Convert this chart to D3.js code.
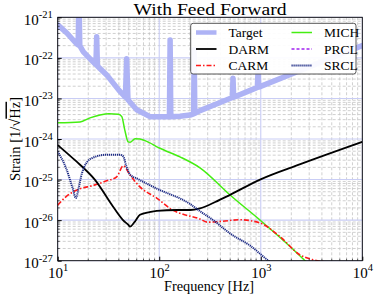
<!DOCTYPE html>
<html><head><meta charset="utf-8">
<script src="https://cdn.jsdelivr.net/npm/d3@7"></script>
<style>
html,body{margin:0;padding:0;background:#fff;}
svg{display:block;font-family:"Liberation Serif","DejaVu Serif",serif;}
</style></head>
<body>
<svg id="chart" width="382" height="297"></svg>
<script>
// ---------- data ----------
const xTickValues = [10, 100, 1000, 10000];
const xTickExps = ["1", "2", "3", "4"];
const yTickValues = [1e-27, 1e-26, 1e-25, 1e-24, 1e-23, 1e-22, 1e-21];
const yTickExps = ["-27", "-26", "-25", "-24", "-23", "-22", "-21"];

const targetFreq = [10, 12.3, 15.4, 15.9, 16.2, 16.5, 17.9, 23.3, 23.8, 24.2, 24.6, 30.4, 40, 46.4, 47.8, 49.2, 60, 81, 126, 128, 130, 160, 201, 218, 221, 224, 252, 398, 525, 533, 541, 787, 925, 940, 955, 2450, 10000];
const targetVal = [6.5e-22, 4.1e-22, 2.2e-22, 2.1e-22, 3.2e-21, 2.0e-22, 1.4e-22, 7.1e-23, 6.8e-23, 3.3e-22, 6.3e-23, 3.8e-23, 1.6e-23, 1.07e-23, 9.5e-23, 9.3e-24, 5.25e-24, 3.55e-24, 3.55e-24, 2.75e-22, 3.55e-24, 3.63e-24, 3.89e-24, 4.17e-24, 1.58e-22, 4.27e-24, 5.0e-24, 7.94e-24, 1.05e-23, 3.16e-23, 1.07e-23, 1.58e-23, 1.86e-23, 4.47e-23, 1.9e-23, 4.9e-23, 2.0e-22];

const darmFreq = [10, 14.8, 23.3, 35.3, 44, 49.7, 51.5, 57, 64.6, 80, 94.4, 150, 201, 252, 356, 498, 984, 2455, 10000];
const darmVal = [7.1e-25, 3.0e-25, 9.8e-26, 2.1e-26, 1.0e-26, 7.6e-27, 6.9e-27, 8.9e-27, 1.35e-26, 1.58e-26, 1.7e-26, 1.78e-26, 1.78e-26, 1.95e-26, 2.8e-26, 4.2e-26, 1.0e-25, 2.4e-25, 8.5e-25];

const carmFreq = [10, 12.1, 14.2, 23.3, 30.4, 38.1, 44.3, 51.6, 64.6, 94.4, 135, 160, 252, 300, 400, 630, 984, 1550, 2450, 3300, 4800, 8000];
const carmVal = [2.34e-26, 3.8e-26, 5.0e-26, 7.4e-26, 9.3e-26, 1.17e-25, 2.19e-25, 1.29e-25, 6.6e-26, 3.5e-26, 1.78e-26, 1.48e-26, 1.07e-26, 8.9e-27, 9.3e-27, 1.02e-26, 8.5e-27, 3.9e-27, 1.38e-27, 1.05e-27, 8.9e-28, 6e-28];

const michFreq = [10, 16.6, 20.8, 26.1, 32, 39.6, 42.8, 45.8, 49.4, 51.6, 57.8, 64.6, 72.5, 101.5, 160, 252, 498, 984, 1941, 2730, 3820];
const michVal = [2.51e-24, 2.63e-24, 3.31e-24, 3.89e-24, 4.17e-24, 4.07e-24, 3.55e-24, 1.66e-24, 8.5e-25, 8.3e-25, 1.02e-24, 1.0e-24, 9.1e-25, 5.9e-25, 3.63e-25, 1.95e-25, 4.17e-26, 1.0e-26, 2.24e-27, 1.0e-27, 4.7e-28];

const prclFreq = [];   // PRCL lies below the plotted range
const prclVal = [];

const srclFreq = [10, 12.1, 14.0, 15.1, 16.1, 17.3, 21.3, 30.4, 41.1, 44.3, 47.5, 52, 60, 94.4, 201, 252, 340, 498, 787, 1190, 1780];
const srclVal = [4.9e-25, 1.9e-25, 6.3e-26, 3.5e-26, 6.3e-26, 1.41e-25, 3.3e-25, 4.1e-25, 4.1e-25, 3.7e-25, 2.1e-25, 1.3e-25, 1.07e-25, 6.0e-26, 2.5e-26, 1.66e-26, 1.0e-26, 4.7e-27, 2.34e-27, 1.0e-27, 5.0e-28];

const seriesNames = ["Target", "DARM", "CARM", "MICH", "PRCL", "SRCL"];
// ---------- styles ----------
const styles = {
  Target: {color: "#aeb3f5", width: 5.5, dash: null, cap: "round"},
  DARM:   {color: "#000000", width: 1.8, dash: null},
  CARM:   {color: "#ff1a1a", width: 1.6, dash: "5,2,1.5,2"},
  MICH:   {color: "#44ee11", width: 1.5, dash: null},
  PRCL:   {color: "#a020f0", width: 1.6, dash: "3,2"},
  SRCL:   {color: "#1c2a85", width: 2.0, dash: "1.2,0.8"}
};
const seriesData = {
  Target: d3.zip(targetFreq, targetVal),
  DARM: d3.zip(darmFreq, darmVal),
  CARM: d3.zip(carmFreq, carmVal),
  MICH: d3.zip(michFreq, michVal),
  PRCL: d3.zip(prclFreq, prclVal),
  SRCL: d3.zip(srclFreq, srclVal)
};

// ---------- layout ----------
const L = 57.7, R = 362.3, T = 17.3, B = 260.7;
const svg = d3.select("#chart");
const x = d3.scaleLog().domain([10, 1e4]).range([L, R]);
const y = d3.scaleLog().domain([1e-27, 1e-21]).range([B, T]);

svg.append("defs").append("clipPath").attr("id", "clip")
  .append("rect").attr("x", L).attr("y", T).attr("width", R - L).attr("height", B - T);

// grid
const grid = svg.append("g");
const xMinor = x.ticks().filter(v => !xTickValues.some(m => Math.abs(m - v) / m < 1e-6));
const yMinor = y.ticks().filter(v => !yTickValues.some(m => Math.abs(m - v) / m < 1e-6));
grid.selectAll(".xm").data(xMinor).join("line")
  .attr("x1", d => x(d)).attr("x2", d => x(d)).attr("y1", T).attr("y2", B)
  .attr("stroke", "#c4c4c4").attr("stroke-width", 0.8).attr("stroke-dasharray", "3,2");
grid.selectAll(".ym").data(yMinor).join("line")
  .attr("y1", d => y(d)).attr("y2", d => y(d)).attr("x1", L).attr("x2", R)
  .attr("stroke", "#c4c4c4").attr("stroke-width", 0.8).attr("stroke-dasharray", "3,2");
grid.selectAll(".xM").data(xTickValues).join("line")
  .attr("x1", d => x(d)).attr("x2", d => x(d)).attr("y1", T).attr("y2", B)
  .attr("stroke", "#c9cdf5").attr("stroke-width", 1.1);
grid.selectAll(".yM").data(yTickValues).join("line")
  .attr("y1", d => y(d)).attr("y2", d => y(d)).attr("x1", L).attr("x2", R)
  .attr("stroke", "#c9cdf5").attr("stroke-width", 1.1);

// series
const line = d3.line().x(d => x(d[0])).y(d => y(d[1])).curve(d3.curveMonotoneX);
const lineLin = d3.line().x(d => x(d[0])).y(d => y(d[1]));
const plot = svg.append("g").attr("clip-path", "url(#clip)");
["Target", "MICH", "PRCL", "CARM", "DARM", "SRCL"].forEach(name => {
  const s = styles[name];
  const data = seriesData[name];
  if (!data.length) return;
  plot.append("path").datum(data)
    .attr("d", name === "Target" ? lineLin : line)
    .attr("fill", "none").attr("stroke", s.color).attr("stroke-width", s.width)
    .attr("stroke-linejoin", "round").attr("stroke-linecap", s.cap || "butt")
    .attr("stroke-dasharray", s.dash);
});

// axes
function supLabels(sel, exps) {
  sel.selectAll(".tick text").each(function(d, i) {
    const t = d3.select(this);
    t.text(null).attr("font-size", 15).attr("font-family", '"Liberation Serif","DejaVu Serif",serif').attr("fill", "#000");
    t.append("tspan").text("10");
    t.append("tspan").attr("font-size", 10.5).attr("dy", -6.5).text(exps[i]);
  });
}
const xAxis = d3.axisBottom(x).tickValues(xTickValues).tickSizeInner(-4).tickSizeOuter(0).tickPadding(0);
const gx = svg.append("g").attr("transform", `translate(0,${B})`).call(xAxis);
gx.select(".domain").remove();
gx.selectAll(".tick line").attr("stroke", "#000");
gx.selectAll(".tick text").attr("dy", null).attr("y", 17.3);
supLabels(gx, xTickExps);

const yAxis = d3.axisLeft(y).tickValues(yTickValues).tickSizeInner(-4).tickSizeOuter(0).tickPadding(4);
const gy = svg.append("g").attr("transform", `translate(${L},0)`).call(yAxis);
gy.select(".domain").remove();
gy.selectAll(".tick line").attr("stroke", "#000");
gy.selectAll(".tick text").attr("dy", null).attr("y", 7).attr("x", -5);
supLabels(gy, yTickExps);

// minor ticks (inside)
svg.append("g").selectAll("line").data(xMinor).join("line")
  .attr("x1", d => x(d)).attr("x2", d => x(d)).attr("y1", B).attr("y2", B - 2)
  .attr("stroke", "#000").attr("stroke-width", 0.6);
svg.append("g").selectAll("line").data(yMinor).join("line")
  .attr("y1", d => y(d)).attr("y2", d => y(d)).attr("x1", L).attr("x2", L + 2)
  .attr("stroke", "#000").attr("stroke-width", 0.6);

// frame
svg.append("rect").attr("x", L).attr("y", T).attr("width", R - L).attr("height", B - T)
  .attr("fill", "none").attr("stroke", "#000").attr("stroke-width", 0.9);

// title & labels
svg.append("text").attr("x", 210).attr("y", 14.5).attr("text-anchor", "middle")
  .attr("font-size", 17.5).attr("textLength", 153).attr("lengthAdjust", "spacingAndGlyphs")
  .text("With Feed Forward");
svg.append("text").attr("x", 209).attr("y", 291).attr("text-anchor", "middle")
  .attr("font-size", 14.5).attr("textLength", 90).attr("lengthAdjust", "spacingAndGlyphs")
  .text("Frequency [Hz]");
const yl = svg.append("text").attr("transform", "translate(19.5,139) rotate(-90)")
  .attr("text-anchor", "middle").attr("font-size", 14.5);
yl.append("tspan").text("Strain [1/√");
yl.append("tspan").attr("text-decoration", "overline").text("Hz");
yl.append("tspan").text("]");

// legend
const lg = svg.append("g");
lg.append("rect").attr("x", 190.7).attr("y", 23.3).attr("width", 165.3).attr("height", 50.7)
  .attr("rx", 2.5).attr("fill", "#fff").attr("fill-opacity", 0.92)
  .attr("stroke", "#444").attr("stroke-width", 0.9);
const legendPos = {
  Target: [196, 32.5], DARM: [196, 49], CARM: [196, 65.5],
  MICH: [291.5, 32.5], PRCL: [291.5, 49], SRCL: [291.5, 65.5]
};
seriesNames.forEach(name => {
  const s = styles[name];
  const [lx, ly] = legendPos[name];
  lg.append("line").attr("x1", lx).attr("x2", lx + 20.5).attr("y1", ly).attr("y2", ly)
    .attr("stroke", s.color).attr("stroke-width", name === "Target" ? 4.5 : s.width)
    .attr("stroke-dasharray", s.dash);
  lg.append("text").attr("x", lx + 32.5).attr("y", ly + 4.5).attr("font-size", 13.5).text(name);
});
</script>
</body></html>
